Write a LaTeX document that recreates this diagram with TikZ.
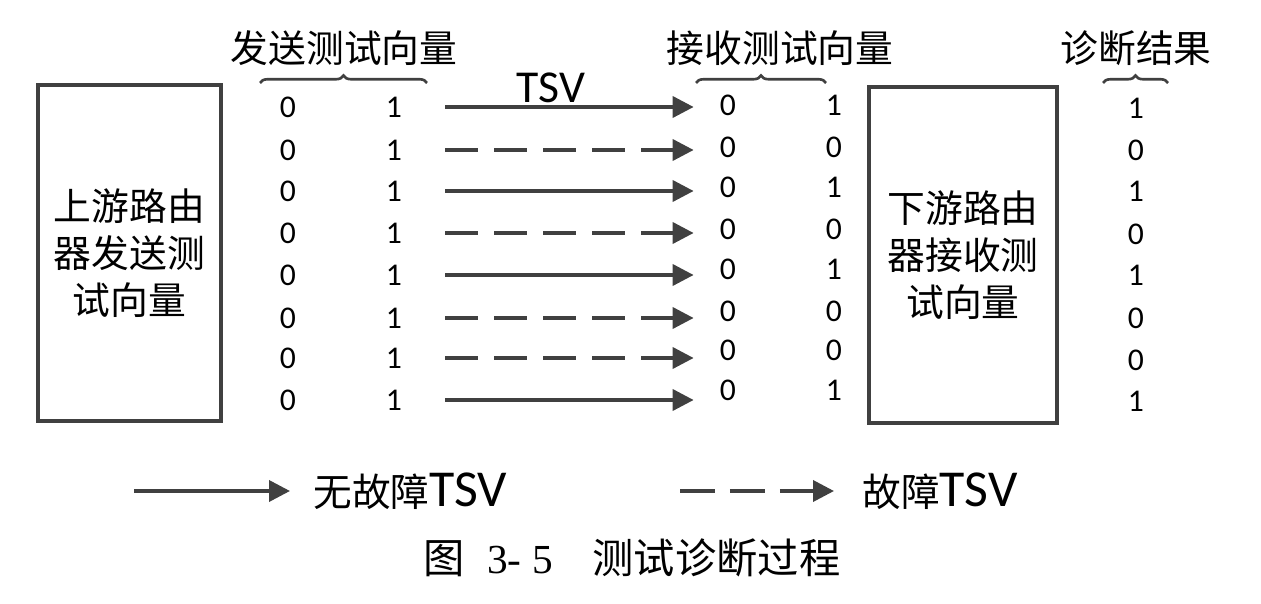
\documentclass[tikz,border=0pt]{standalone}
\usepackage{fontspec}
\setmainfont{Carlito}
\newfontfamily\cjk{Noto Sans CJK SC}
\newfontfamily\capfont{Liberation Serif}
\usetikzlibrary{arrows.meta,decorations.pathreplacing}

\definecolor{inkgray}{HTML}{404040}

\begin{document}
\begin{tikzpicture}[
  x=0.02cm, y=-0.02cm,
  every node/.style={align=center, inner sep=0pt},
  router/.style={rectangle, draw=inkgray, line width=2pt, minimum height=6.72cm,
                 font=\cjk\fontsize{21.5}{26.7}\selectfont},
  head/.style  ={font=\cjk\fontsize{21.5}{26}\selectfont},
  bit/.style   ={font=\fontsize{18}{20}\selectfont},
  tsvok/.style ={draw=inkgray, line width=2.1pt, -{Triangle[length=0.42cm,width=0.42cm]}},
  tsvbad/.style={tsvok, dash pattern=on 0.66cm off 0.32cm},
  grp/.style   ={draw=inkgray, line width=1.5pt, decorate, decoration={brace, amplitude=0.15cm}},
]
\useasboundingbox (0,0) rectangle (1261,604);

% -------- routers ---------------------------------------------------------
\node[router, minimum width=3.66cm] (up) at (129.5,253) {上游路由\\器发送测\\试向量};
\node[router, minimum width=3.76cm] (down) at (963,255) {下游路由\\器接收测\\试向量};

% -------- column headers --------------------------------------------------
\node[head] (hsend) at (344,48) {发送测试向量};
\node[head] (hrecv) at (780,48) {接收测试向量};
\node[head] (hdiag) at (1136,48) {诊断结果};

\draw[grp] (260,83) -- (427,83);
\draw[grp] (696,83) -- (826,83);
\draw[grp] (1103,83) -- (1168,83);

% -------- vectors and TSVs ------------------------------------------------
\foreach \i/\ys/\yr/\yd/\rv/\kind in {1/107/105/108/1/tsvok, 2/150/147/150/0/tsvbad,
                                      3/191/187/191/1/tsvok, 4/233/229/234/0/tsvbad,
                                      5/275/269/275/1/tsvok, 6/318/311/318/0/tsvbad,
                                      7/358/350/360/0/tsvbad, 8/400/390/401/1/tsvok} {
  \node[bit] (s0-\i) at (288,\ys) {0};
  \node[bit] (s1-\i) at (394,\ys) {1};
  \node[bit] (r0-\i) at (728,\yr) {0};
  \node[bit] (r1-\i) at (834,\yr) {\rv};
  \node[bit] (d-\i)  at (1136,\yd) {\rv};
  \draw[\kind, shorten <=0.86cm, shorten >=0.52cm] (s1-\i.east) -- (r0-\i.west |- s1-\i.east);
}

\node[font=\fontsize{26}{30}\selectfont] (tsv) at (551,88) {TSV};

% -------- legend ----------------------------------------------------------
\node[anchor=west] (lgok) at (313,491) {{\cjk\fontsize{22}{26}\selectfont 无故障}{\fontsize{29.5}{30}\selectfont TSV}};
\node[anchor=west] (lgbad) at (862,491) {{\cjk\fontsize{22}{26}\selectfont 故障}{\fontsize{29.5}{30}\selectfont TSV}};
\coordinate (lgok-from) at (134,491);
\coordinate (lgbad-from) at (680,491);
\draw[tsvok, shorten >=0.46cm] (lgok-from) -- (lgok.west);
\draw[tsvbad, dash pattern=on 0.7cm off 0.3cm, shorten >=0.56cm] (lgbad-from) -- (lgbad.west);

% -------- caption ---------------------------------------------------------
\node[font=\fontsize{23.5}{28}\selectfont] (cap) at (632,558)
  {{\cjk 图}\hspace{0.45cm}{\capfont 3- 5}\hspace{0.8cm}{\cjk 测试诊断过程}};

\end{tikzpicture}
\end{document}
